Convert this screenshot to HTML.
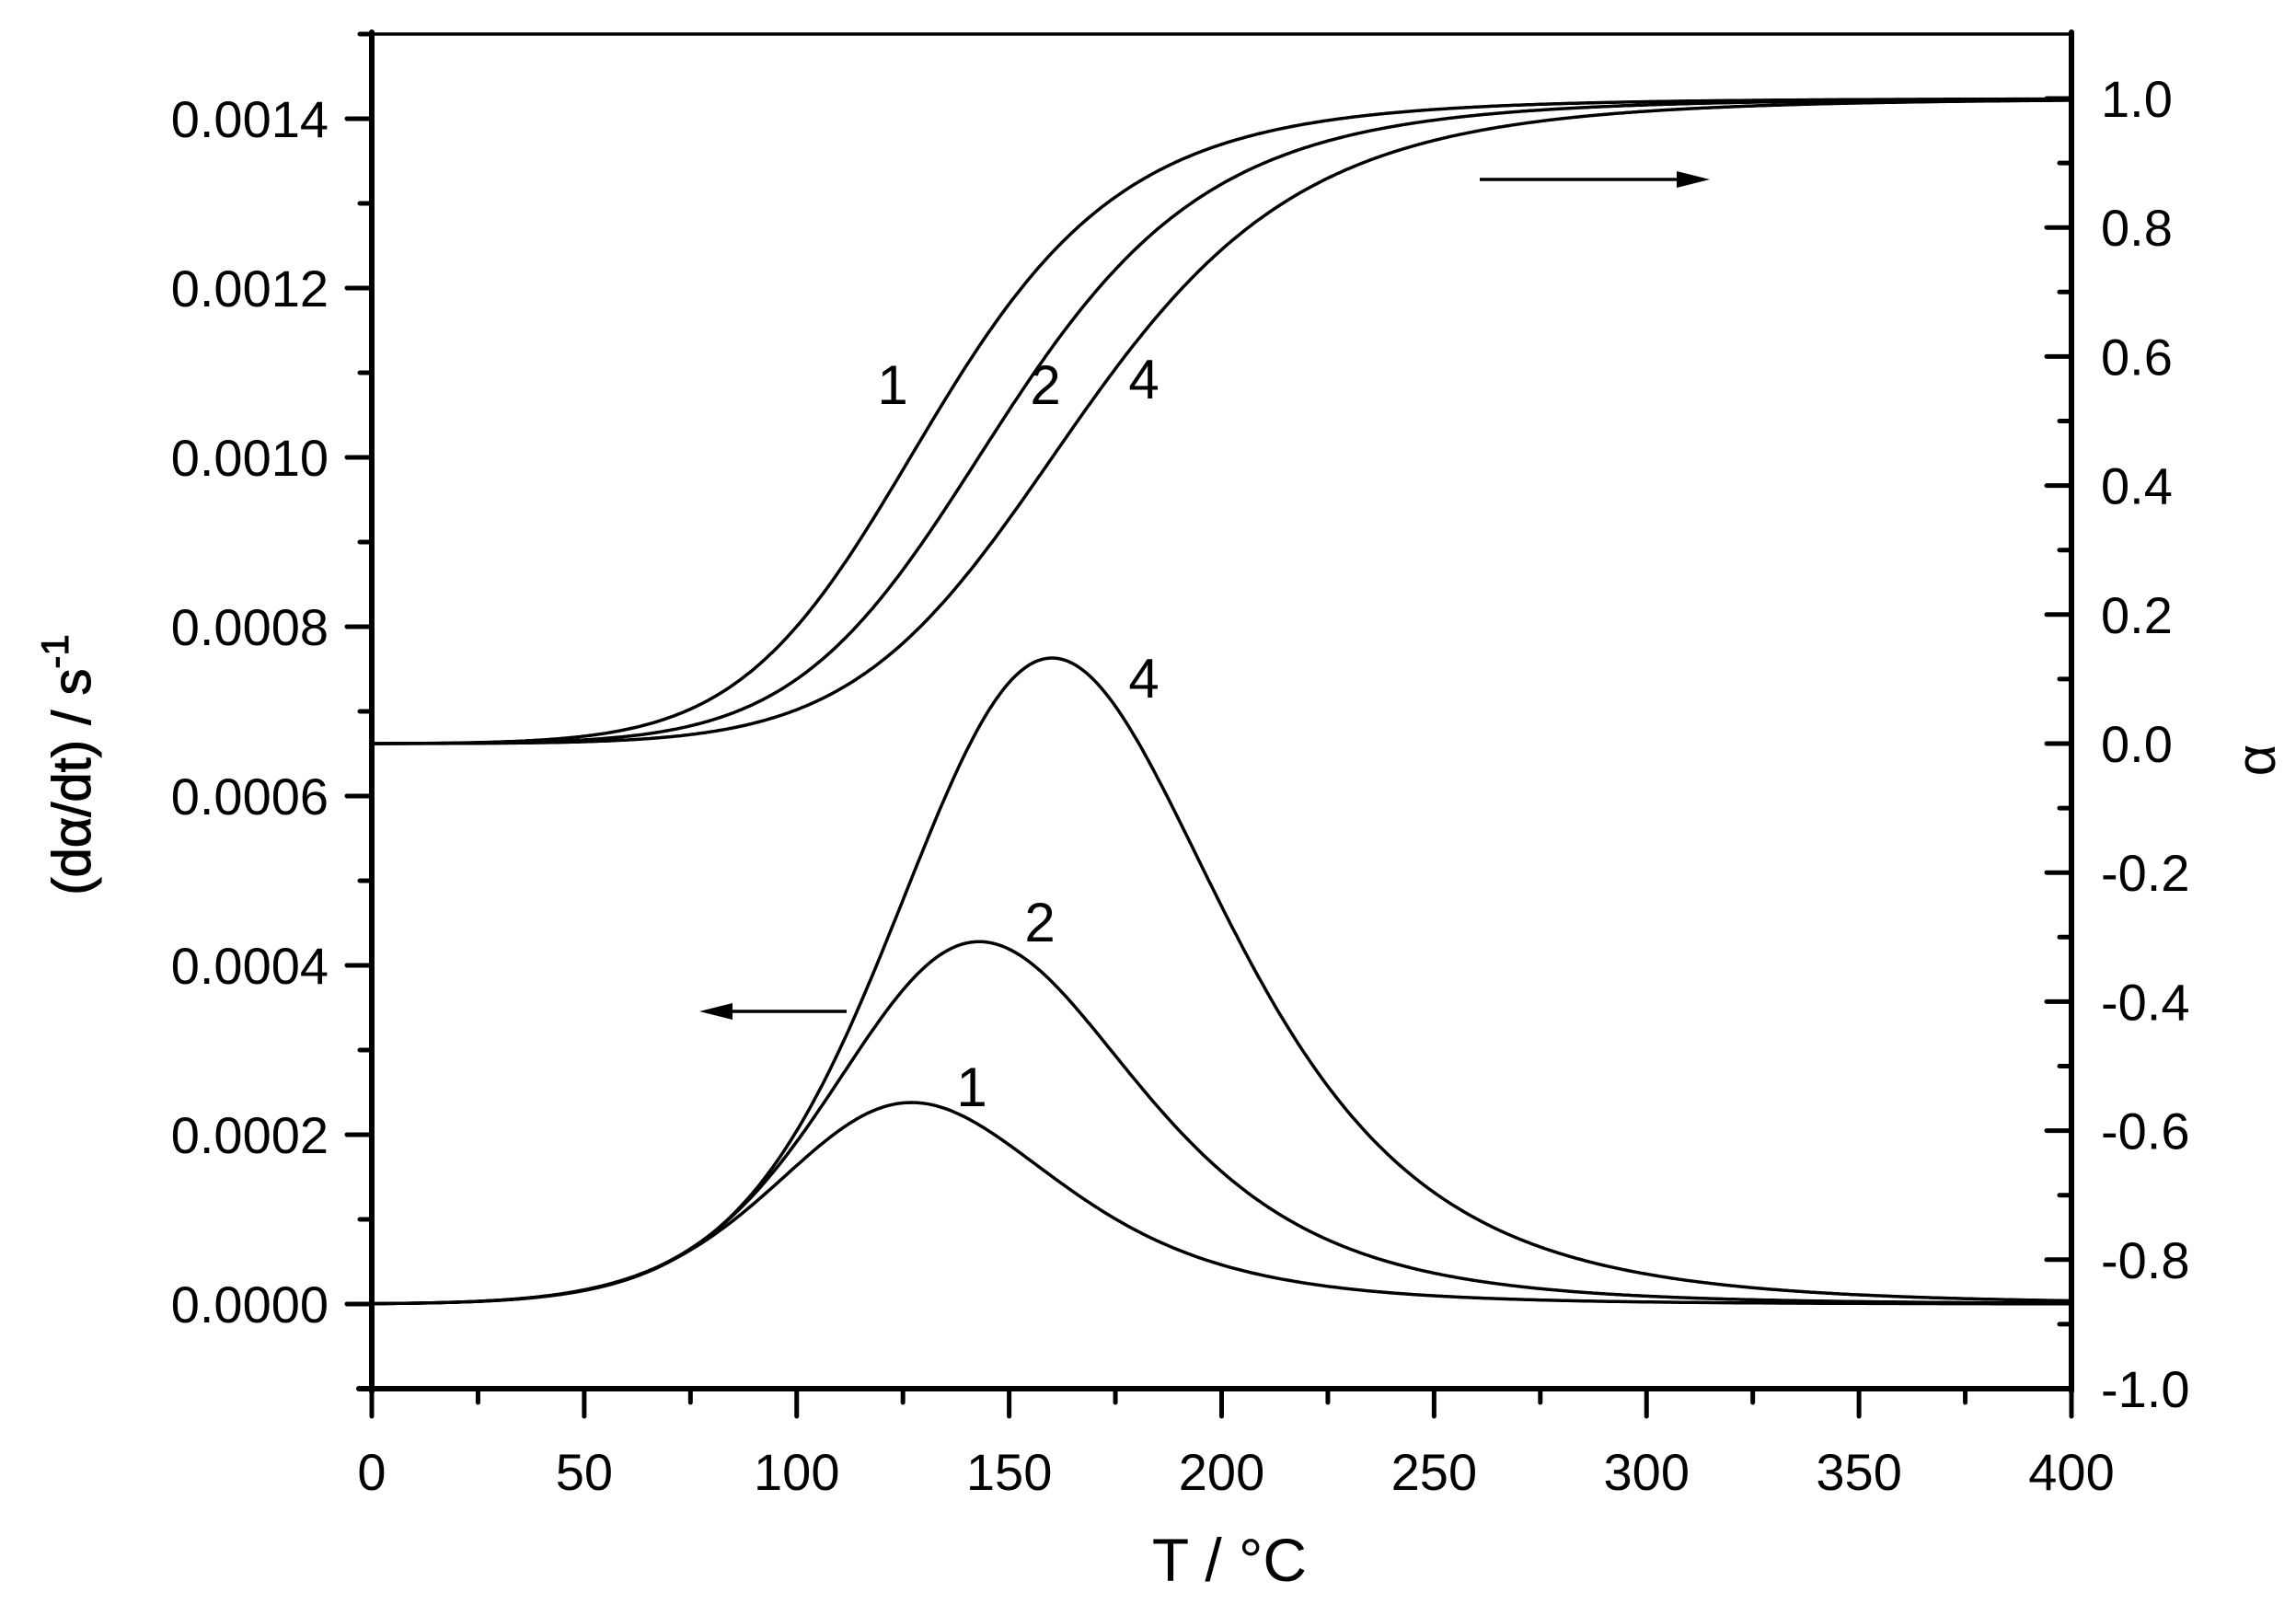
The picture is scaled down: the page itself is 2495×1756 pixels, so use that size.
<!DOCTYPE html>
<html><head><meta charset="utf-8"><style>
html,body{margin:0;padding:0;background:#fff;}
svg{display:block;font-family:"Liberation Sans",sans-serif;}
</style></head><body>
<svg id="s" width="2495" height="1756" viewBox="0 0 2495 1756" xmlns="http://www.w3.org/2000/svg">
<g id="curves" fill="none" stroke="#000" stroke-width="3.5" stroke-linejoin="round"></g>
<g stroke="#000" stroke-linecap="round">
<line x1="404" y1="37" x2="2251" y2="37" stroke-width="3.5"/>
<line x1="404" y1="35" x2="404" y2="1512" stroke-width="6"/>
<line x1="2251" y1="35" x2="2251" y2="1512" stroke-width="6"/>
<line x1="390" y1="1509" x2="2251" y2="1509" stroke-width="6"/>
<g id="ticks" stroke-width="5"></g>
</g>
<g id="labels" font-size="56" fill="#000"></g>
<text x="1336" y="1718" font-size="66" text-anchor="middle">T / °C</text>
<text transform="translate(98,831) rotate(-90)" font-size="58" text-anchor="middle" stroke="#000" stroke-width="1">(dα/dt) / s<tspan dy="-24" font-size="42">-1</tspan></text>
<text transform="translate(2472,826) rotate(-90)" font-size="60" text-anchor="middle">α</text>
<g font-size="60">
<text x="970" y="439" text-anchor="middle">1</text>
<text x="1136" y="439" text-anchor="middle">2</text>
<text x="1243" y="433" text-anchor="middle">4</text>
<text x="1243" y="758" text-anchor="middle">4</text>
<text x="1130" y="1023" text-anchor="middle">2</text>
<text x="1056" y="1202" text-anchor="middle">1</text>
</g>
<g stroke="#000" stroke-width="3.5">
<line x1="1608" y1="195" x2="1830" y2="195"/>
<line x1="920" y1="1099" x2="785" y2="1099"/>
</g>
<polygon points="1858,195 1822,186 1822,204" fill="#000"/>
<polygon points="760,1099 796,1090 796,1108" fill="#000"/>
</svg>
<script>
var NS="http://www.w3.org/2000/svg";
function X(t){return 404+t*(2251-404)/400;}
function YL(v){return 1417-v/0.0002*184;}
function YR(a){return 808-a*701;}
function el(tag,attrs,par,txt){var e=document.createElementNS(NS,tag);for(var k in attrs)e.setAttribute(k,attrs[k]);if(txt!==undefined)e.textContent=txt;document.getElementById(par).appendChild(e);return e;}
for(var t=0;t<=400;t+=25){var L=(t%50==0)?30:15;el('line',{x1:X(t),y1:1509,x2:X(t),y2:1509+L},'ticks');
 if(t%50==0)el('text',{x:X(t),y:1619,'text-anchor':'middle'},'labels',String(t));}
for(var i=-1;i<=15;i++){var v=i*0.0001,y=YL(v);var maj=(i%2==0);el('line',{x1:404,y1:y,x2:404-(maj?27:13),y2:y},'ticks');
 if(maj)el('text',{x:357,y:y+20,'text-anchor':'end'},'labels',v.toFixed(4));}
for(var i=-10;i<=10;i++){var a=i/10,y=YR(a);var maj=(i%2==0);el('line',{x1:2251,y1:y,x2:2251-(maj?27:13),y2:y},'ticks');
 if(maj)el('text',{x:2283,y:y+20},'labels',a.toFixed(1));}
var ER=6400,n=2.0;
function sim(lnA,beta){var a=0,dT=0.05,res=[];for(var T=0;T<=400.0001;T+=dT){
 var k=Math.exp(lnA-ER/(T+273.15));
 var f=function(al){return k/beta*Math.pow(Math.max(1-al,0),n);};
 var r=f(a);res.push([T,a,r*beta]);
 var k1=f(a),k2=f(a+k1*dT/2),k3=f(a+k2*dT/2),k4=f(a+k3*dT);a+=dT/6*(k1+2*k2+2*k3+k4);if(a>1)a=1;}
 return res;}
function peakT(r){var m=0,tp=0;r.forEach(function(p){if(p[2]>m){m=p[2];tp=p[0];}});return [tp,m];}
var lo=0,hi=40;
for(var it=0;it<40;it++){var mid=(lo+hi)/2;var p=peakT(sim(mid,1/60))[0];if(p>127)lo=mid;else hi=mid;}
var lnA=(lo+hi)/2;
var peaks={1:0.000238,2:0.000428,4:0.000763};
[1,2,4].forEach(function(b){var r=sim(lnA,b/60);var pk=peakT(r)[1];var sc=peaks[b]/pk;
 var d1="",d2="";for(var i=0;i<r.length;i+=10){var p=r[i];
  d1+=(i?"L":"M")+X(p[0]).toFixed(1)+" "+YR(p[1]).toFixed(1);
  d2+=(i?"L":"M")+X(p[0]).toFixed(1)+" "+YL(p[2]*sc).toFixed(1);}
 el('path',{d:d1},'curves');el('path',{d:d2},'curves');});
</script>
</body></html>
